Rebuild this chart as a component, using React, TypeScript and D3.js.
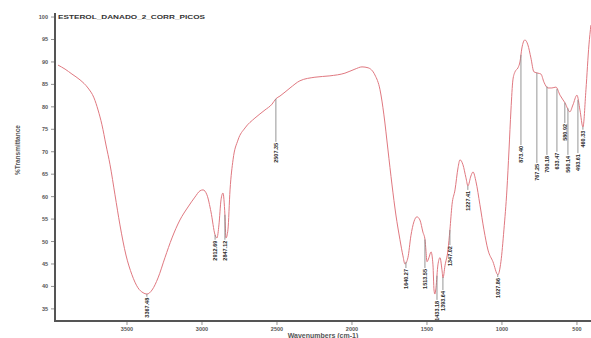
import React from 'react';
import * as d3 from 'd3';

const title = 'ESTEROL_DANADO_2_CORR_PICOS';
const xTitle = 'Wavenumbers (cm-1)';
const yTitle = '%Transmittance';

const wavenumbers = [
  3960, 3913, 3867, 3813, 3760, 3720, 3693, 3667, 3640, 3613, 3580, 3547, 3507, 3467, 3427, 3393, 3367, 3333, 3293,
  3247, 3200, 3147, 3093, 3047, 3013, 2993, 2967, 2940, 2913, 2900, 2887, 2873, 2860, 2847, 2840, 2827, 2813, 2793,
  2760, 2713, 2647, 2580, 2533, 2507, 2480, 2413, 2347, 2247, 2147, 2047, 1980, 1933, 1893, 1847, 1813, 1787, 1760,
  1733, 1707, 1680, 1660, 1647, 1627, 1607, 1587, 1567, 1547, 1527, 1513, 1507, 1500, 1487, 1473, 1460, 1453, 1447,
  1440, 1427, 1413, 1400, 1393, 1380, 1360, 1347, 1333, 1313, 1293, 1280, 1260, 1240, 1227, 1207, 1193, 1173, 1147,
  1120, 1093, 1060, 1027, 1007, 987, 967, 953, 940, 927, 913, 893, 880, 867, 847, 827, 807, 787, 760, 740, 720, 693,
  667, 640, 613, 580, 547, 527, 500, 480, 460, 440, 420, 407,
];
const transmittance = [
  89.3, 88.4, 87.3, 86.0, 84.2, 82.0, 79.3, 76.0, 71.5, 67.1, 60.4, 53.7, 47.0, 42.6, 39.7, 38.6, 38.3, 39.2, 41.9,
  46.4, 50.8, 54.8, 57.7, 59.9, 61.3, 61.5, 60.4, 56.6, 51.5, 50.8, 53.7, 59.3, 60.8, 55.9, 50.8, 52.6, 61.5, 68.2,
  72.6, 75.3, 77.5, 79.3, 80.6, 81.8, 82.4, 84.2, 85.8, 86.6, 86.9, 87.5, 88.4, 88.9, 88.7, 87.1, 83.8, 78.2, 70.4,
  62.6, 55.9, 50.4, 46.8, 45.0, 46.4, 51.3, 54.4, 55.5, 54.8, 52.1, 50.4, 48.1, 45.5, 46.4, 47.7, 44.8, 39.2, 38.3,
  39.7, 44.8, 46.4, 43.7, 41.9, 44.6, 48.1, 52.6, 58.2, 61.5, 66.4, 68.2, 67.1, 64.2, 62.4, 64.6, 65.5, 63.3, 58.2,
  52.6, 48.1, 45.5, 42.6, 45.5, 52.6, 61.5, 70.4, 79.3, 86.0, 87.8, 88.7, 90.0, 93.1, 94.9, 93.8, 90.9, 87.8, 87.5,
  87.3, 85.5, 84.2, 84.2, 84.4, 82.6, 80.9, 78.9, 80.4, 82.6, 79.3, 75.5, 83.8, 93.8, 98.2,
];

const yTicks = [100, 95, 90, 85, 80, 75, 70, 65, 60, 55, 50, 45, 40, 35];
const xTicks = [3500, 3000, 2500, 2000, 1500, 1000, 500];

const peakWavenumbers = [3367.48, 2912.69, 2847.12, 2507.35, 1640.27, 1513.55, 1433.18, 1393.64, 1347.02, 1227.41,
  1027.86, 873.4, 767.25, 700.18, 633.47, 580.92, 560.14, 493.61, 460.33];
const peakLabelLevels = [37.7, 50.4, 50.4, 72.2, 44.1, 44.1, 37.0, 39.2, 49.2, 61.5, 42.1, 71.5, 67.5, 69.3, 70.0,
  76.4, 69.3, 69.7, 74.9];

function curveAt(wn: number): number {
  for (let i = 0; i < wavenumbers.length - 1; i++) {
    const a = wavenumbers[i], b = wavenumbers[i + 1];
    if (wn <= a && wn >= b) {
      const t = (a - wn) / (a - b);
      return transmittance[i] + t * (transmittance[i + 1] - transmittance[i]);
    }
  }
  return transmittance[transmittance.length - 1];
}

export default function App() {
  const W = 591, H = 338;
  const x = d3.scaleLinear().domain([3980, 413]).range([55, 590]);
  const y = d3.scaleLinear().domain([32.3, 100.9]).range([321, 13]);
  const pts: [number, number][] = wavenumbers.map((w, i) => [w, transmittance[i]]);
  const line = d3.line<[number, number]>().x(d => x(d[0])).y(d => y(d[1])).curve(d3.curveMonotoneX);
  const path = line(pts.slice().reverse()) || '';
  const font = 'Liberation Sans, Arial, sans-serif';

  return (
    <svg width={W} height={H} style={{ position: 'absolute', left: 0, top: 0, background: '#fff' }} fontFamily={font}>
      <rect x={0} y={0} width={W} height={H} fill="#fff" />
      {/* curve */}
      <path d={path} fill="none" stroke="#e07880" strokeWidth={1} />
      {/* peak labels */}
      {peakWavenumbers.map((wn, i) => {
        const px = x(wn);
        const cy = y(curveAt(wn));
        const ly = y(peakLabelLevels[i]);
        return (
          <g key={i}>
            {ly - cy > 2 && <line x1={px} x2={px} y1={cy} y2={ly} stroke="#8a8a8a" strokeWidth={0.9} />}
            <text transform={`translate(${px + 2},${ly + 1}) rotate(-90)`} textAnchor="end" fontSize={5.5}
              fontWeight="bold" fill="#2a2a2a">{wn.toFixed(2)}</text>
          </g>
        );
      })}
      {/* axes */}
      <line x1={55} x2={55} y1={13} y2={322} stroke="#555" strokeWidth={2} />
      <line x1={54} x2={591} y1={321} y2={321} stroke="#555" strokeWidth={2} />
      {yTicks.map(t => (
        <g key={t}>
          <line x1={51} x2={54} y1={y(t)} y2={y(t)} stroke="#777" strokeWidth={0.8} />
          <text x={48} y={y(t) + 2} textAnchor="end" fontSize={5.5} fill="#555" fontWeight="bold">{t}</text>
        </g>
      ))}
      {xTicks.map(t => (
        <g key={t}>
          <line x1={x(t)} x2={x(t)} y1={322} y2={325} stroke="#777" strokeWidth={0.8} />
          <text x={x(t)} y={331} textAnchor="middle" fontSize={5.5} fill="#555" fontWeight="bold">{t}</text>
        </g>
      ))}
      <text x={58} y={19} fontSize={6} fill="#333" fontWeight="bold" textLength={147} lengthAdjust="spacingAndGlyphs">{title}</text>
      <text x={323} y={338} textAnchor="middle" fontSize={7} fill="#555" fontWeight="bold">{xTitle}</text>
      <text transform={`translate(20,${150}) rotate(-90)`} textAnchor="middle" fontSize={6.5} fill="#555" fontWeight="bold">{yTitle}</text>
    </svg>
  );
}
